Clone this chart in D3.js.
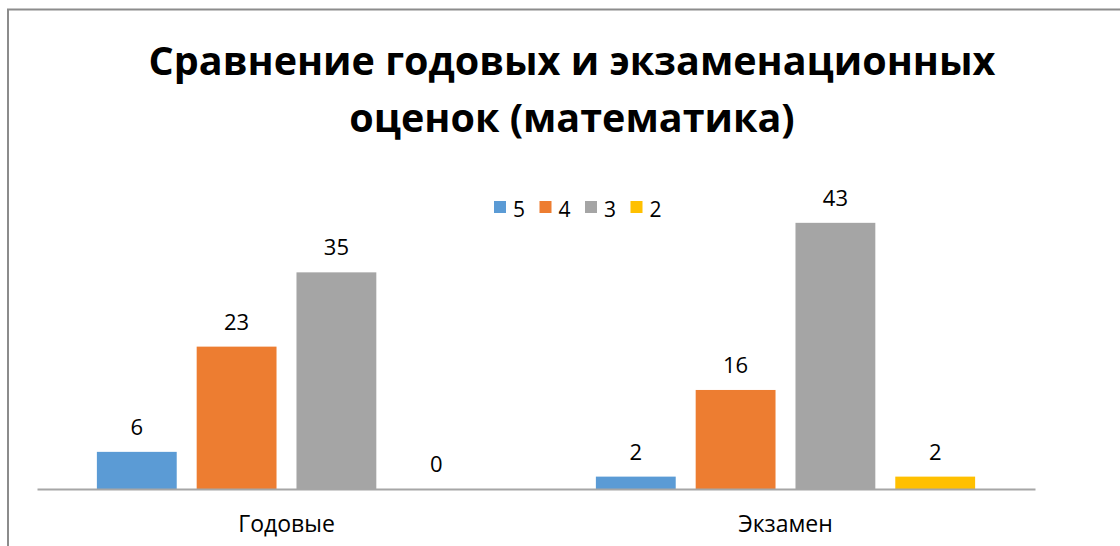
<!DOCTYPE html>
<html>
<head>
<meta charset="utf-8">
<script src="https://cdn.jsdelivr.net/npm/d3@7"></script>
<style>
  body { margin: 0; background: #fff; }
  svg text { font-family: "Open Sans", "Liberation Sans", sans-serif; fill: #000; }
</style>
</head>
<body>
<svg id="chart" width="1120" height="546"></svg>
<script>
var categories = ["Годовые", "Экзамен"];
var grades = ["5", "4", "3", "2"];
var godovye = [6, 23, 35, 0];
var ekzamen = [2, 16, 43, 2];
var colors = ["#5B9BD5", "#ED7D31", "#A5A5A5", "#FFC000"];
var titleLines = ["Сравнение годовых и экзаменационных", "оценок (математика)"];

var svg = d3.select("#chart");

// рамка диаграммы
svg.append("rect")
  .attr("x", 8).attr("y", 9.5)
  .attr("width", 1130).attr("height", 560)
  .attr("fill", "none")
  .attr("stroke", "#8c8c8c")
  .attr("stroke-width", 2);

var margin = { left: 37, right: 85, top: 179.5, bottom: 57 };
var width = 1120 - margin.left - margin.right;
var height = 546 - margin.top - margin.bottom;

var g = svg.append("g")
  .attr("transform", "translate(" + margin.left + "," + margin.top + ")");

var x0 = d3.scaleBand().domain(categories).range([0, width]).paddingInner(0).paddingOuter(0);
var x1 = d3.scaleBand().domain(grades).range([0, x0.bandwidth()]).paddingInner(0.2).paddingOuter(0.6);
var y = d3.scaleLinear().domain([0, 50]).range([height, 0]);

var rows = categories.map(function(c, i) {
  var vals = i === 0 ? godovye : ekzamen;
  return grades.map(function(gr, j) { return { cat: c, grade: gr, value: vals[j], color: colors[j] }; });
});

var groups = g.selectAll(".grp")
  .data(rows)
  .enter().append("g")
  .attr("transform", function(d, i) { return "translate(" + x0(categories[i]) + ",0)"; });

groups.selectAll("rect")
  .data(function(d) { return d; })
  .enter().append("rect")
  .attr("x", function(d) { return x1(d.grade); })
  .attr("y", function(d) { return y(d.value); })
  .attr("width", x1.bandwidth())
  .attr("height", function(d) { return height - y(d.value); })
  .attr("fill", function(d) { return d.color; });

groups.selectAll(".val")
  .data(function(d) { return d; })
  .enter().append("text")
  .attr("x", function(d) { return x1(d.grade) + x1.bandwidth() / 2; })
  .attr("y", function(d) { return y(d.value) - 17; })
  .attr("text-anchor", "middle")
  .style("font-size", "22px")
  .text(function(d) { return d.value; });

// ось X
var xAxis = d3.axisBottom(x0).tickSize(0).tickPadding(27);
var ax = g.append("g")
  .attr("transform", "translate(0," + height + ")")
  .call(xAxis);
ax.select(".domain").attr("stroke", "#a6a6a6").attr("stroke-width", 2);
ax.selectAll("text")
  .style("font-size", "23px")
  .style("font-family", "'Open Sans', 'Liberation Sans', sans-serif")
  .attr("fill", "#000");

// заголовок
svg.selectAll(".title")
  .data(titleLines)
  .enter().append("text")
  .attr("x", 572)
  .attr("y", function(d, i) { return 75 + i * 57; })
  .attr("text-anchor", "middle")
  .style("font-size", "39.5px")
  .style("font-weight", "bold")
  .text(function(d) { return d; });

// легенда
var legend = svg.append("g").attr("transform", "translate(494,201)");
var items = legend.selectAll(".item")
  .data(grades)
  .enter().append("g")
  .attr("transform", function(d, i) { return "translate(" + (i * 45.5) + ",0)"; });
items.append("rect")
  .attr("width", 12).attr("height", 12)
  .attr("fill", function(d, i) { return colors[i]; });
items.append("text")
  .attr("x", 19).attr("y", 16)
  .style("font-size", "21px")
  .text(function(d) { return d; });
</script>
</body>
</html>
